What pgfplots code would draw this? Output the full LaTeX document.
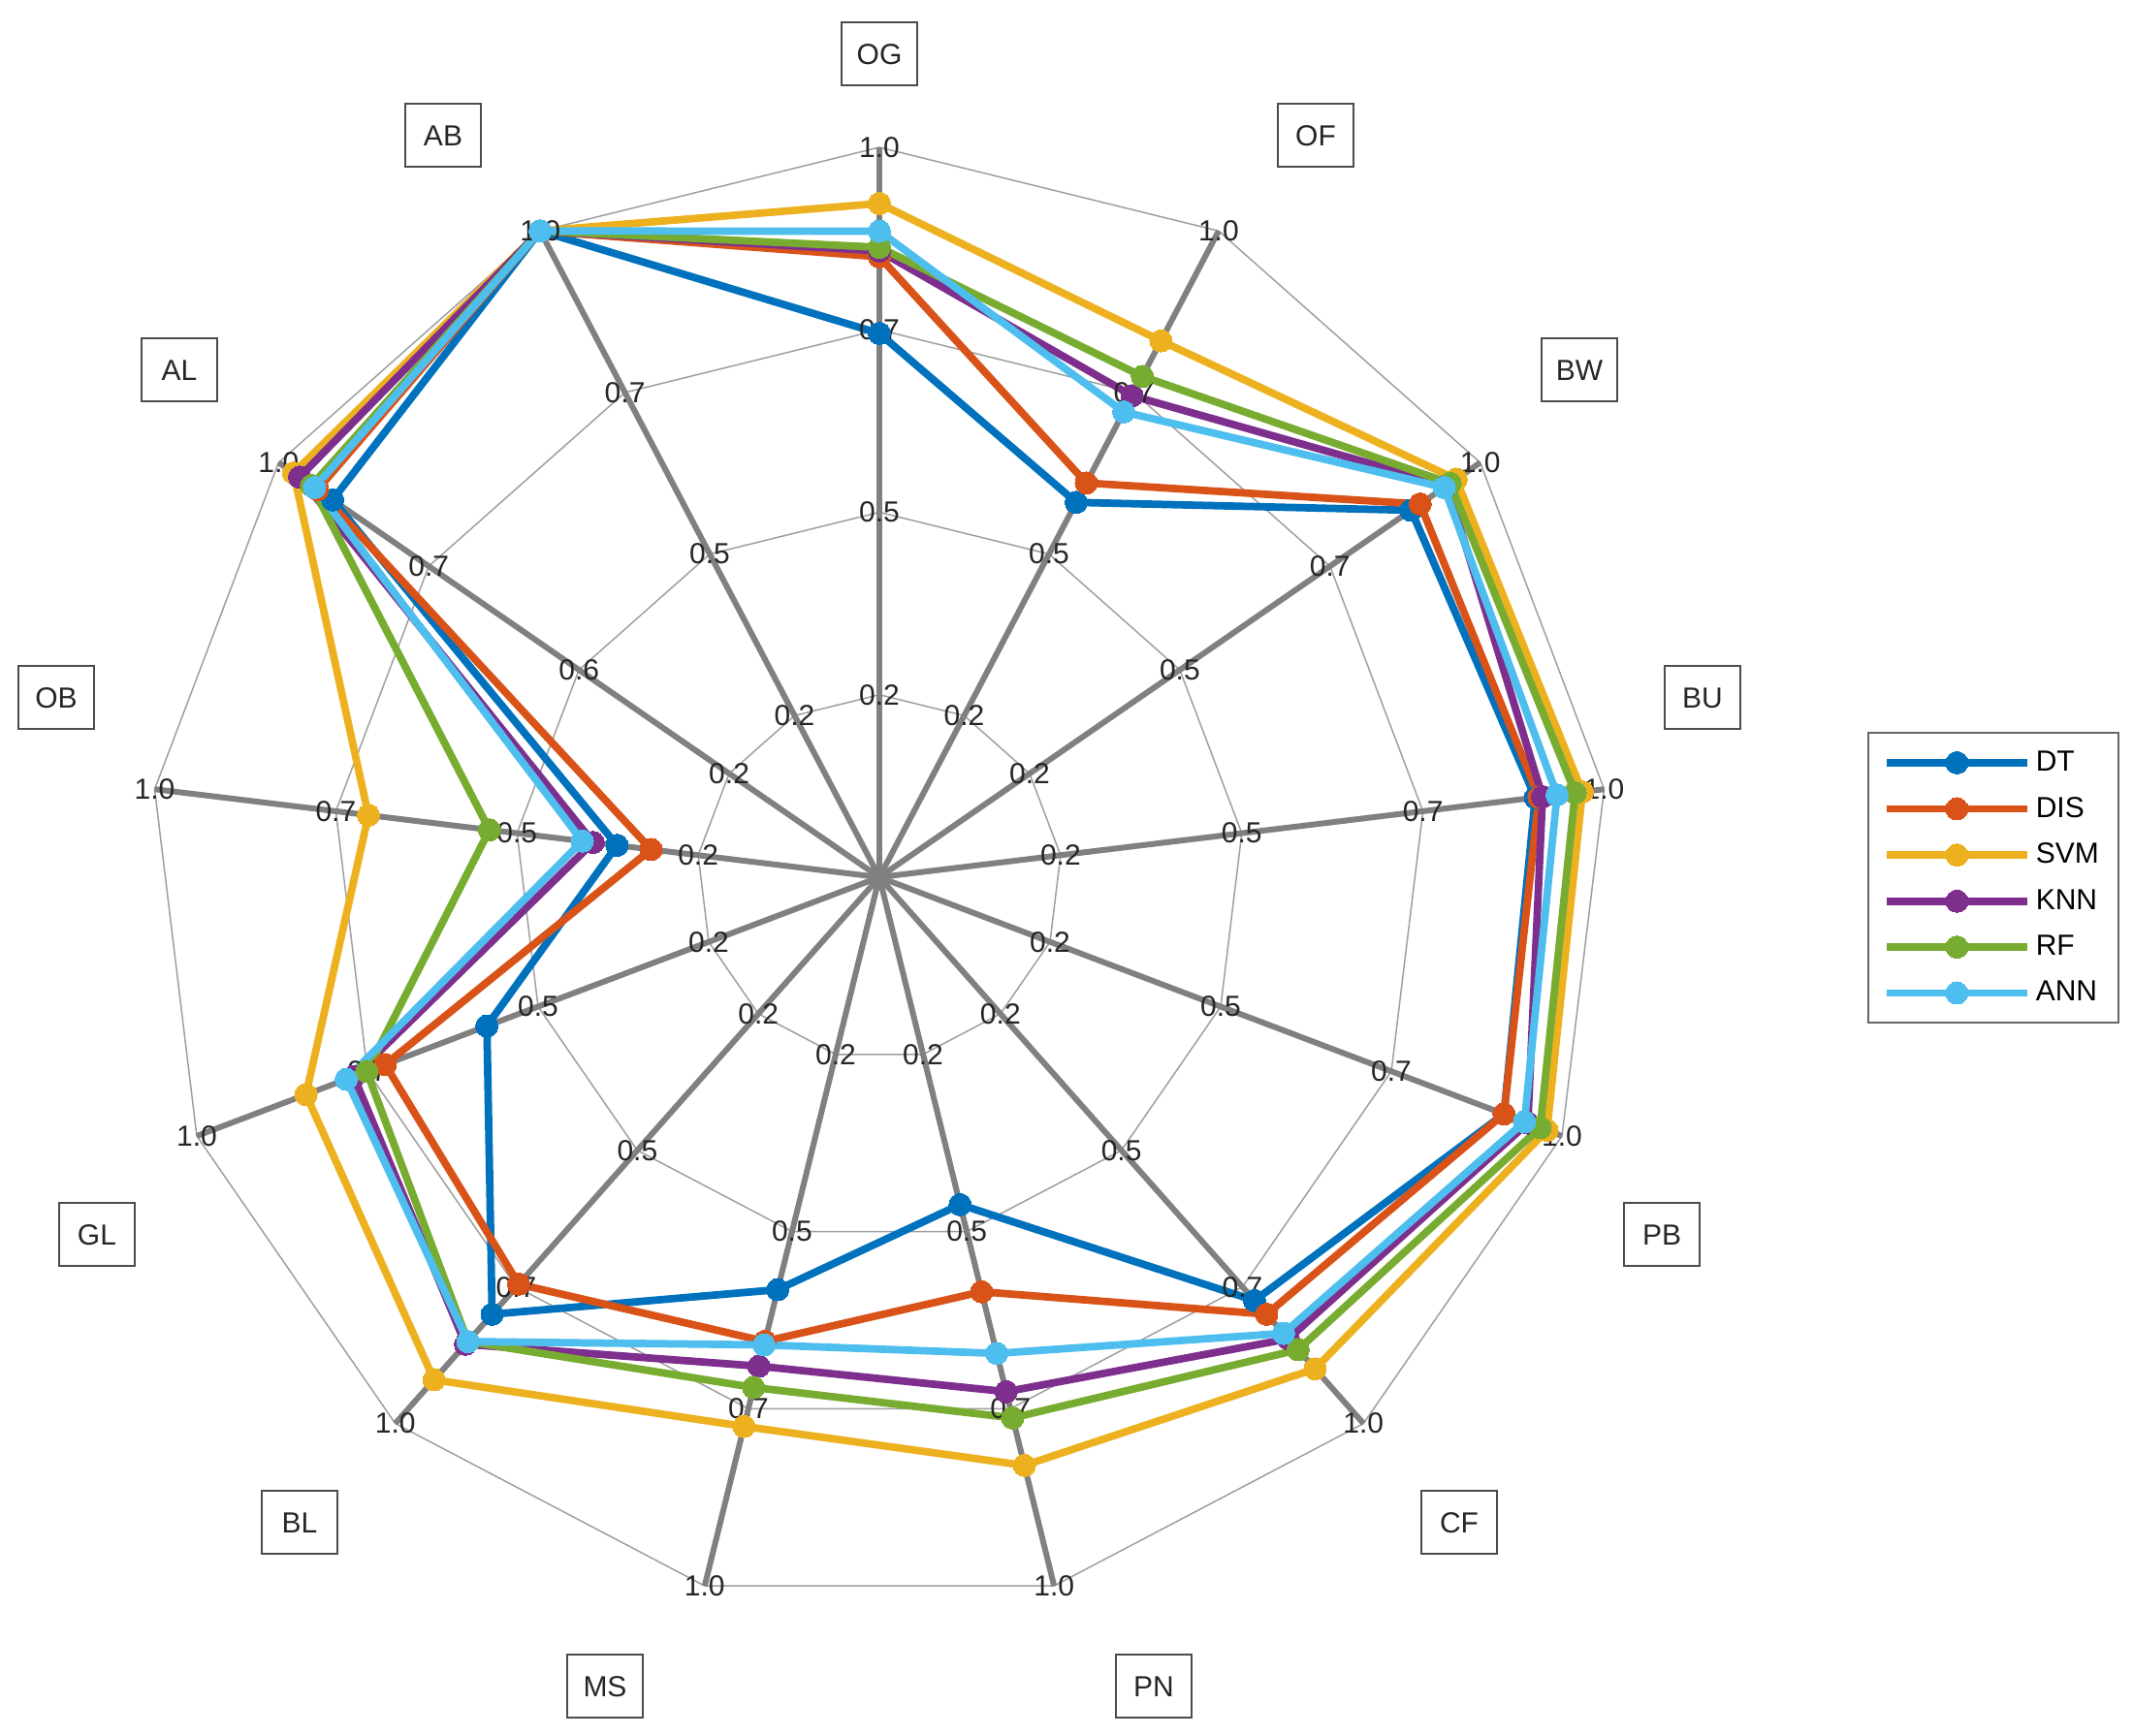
\documentclass[border=0pt]{standalone}
\usepackage{fontspec}
\setmainfont{Liberation Sans}
\usepackage{pgfplots}
\usepackage{pgfplotstable}
\pgfplotsset{compat=1.18}
\usetikzlibrary{calc}

\definecolor{cDT}{rgb}{0,0.447,0.741}
\definecolor{cDIS}{rgb}{0.850,0.325,0.098}
\definecolor{cSVM}{rgb}{0.929,0.694,0.125}
\definecolor{cKNN}{rgb}{0.494,0.184,0.556}
\definecolor{cRF}{rgb}{0.466,0.674,0.188}
\definecolor{cANN}{rgb}{0.301,0.745,0.933}

% radius as fraction of the outer ring (outer ring = 1.0)
% axes: OG OF BW BU PB CF PN MS BL GL OB AL AB (clockwise from top)
\pgfplotstableread{
ang      DT    DIS   SVM   KNN   RF    ANN
90       0.745 0.850 0.923 0.858 0.863 0.885
62.308   0.580 0.610 0.830 0.745 0.775 0.720
34.615   0.885 0.900 0.960 0.945 0.950 0.940
6.923    0.905 0.910 0.970 0.915 0.960 0.935
-20.769  0.915 0.915 0.978 0.950 0.968 0.945
-48.462  0.775 0.800 0.900 0.845 0.865 0.835
-76.154  0.462 0.585 0.830 0.726 0.763 0.672
-103.846 0.582 0.655 0.775 0.690 0.720 0.660
-131.538 0.800 0.745 0.920 0.855 0.850 0.850
-159.231 0.575 0.724 0.840 0.770 0.751 0.781
-186.923 0.362 0.315 0.705 0.395 0.538 0.410
-214.615 0.910 0.935 0.975 0.965 0.945 0.940
-242.308 1.000 1.000 1.000 1.000 1.000 1.000
-270     0.745 0.850 0.923 0.858 0.863 0.885
}\radar

\tikzset{
  ticklbl/.style={font=\fontsize{12}{14}\selectfont, text=black!85, inner sep=0pt},
  catlbl/.style={draw=black!70, line width=0.8pt, font=\fontsize{12}{14}\selectfont,
    minimum width=31pt, minimum height=26pt, inner sep=0pt, text=black!85},
}

\newcommand{\series}[2]{%
  \addplot[color=#2, line width=3.1pt, line join=round, mark=*, mark size=4.6pt,
    mark options={solid, fill=#2, draw=#2, line width=0pt}]
    table[x expr={907+753*\thisrow{#1}*cos(\thisrow{ang})},
          y expr={886+753*\thisrow{#1}*sin(\thisrow{ang})}] {\radar};
  \addlegendentry{#1}
}
\newcommand{\ring}[1]{%
  \addplot[gray!75, line width=0.6pt, forget plot]
    table[x expr={907+753*#1*cos(\thisrow{ang})},
          y expr={886+753*#1*sin(\thisrow{ang})}] {\radar};
}

\begin{document}
\begin{tikzpicture}
\useasboundingbox (0,0) rectangle (880pt,716.4pt);
\begin{axis}[
  at={(0,0)}, anchor=south west,
  x=0.4pt, y=0.4pt,
  xmin=0, xmax=2200, ymin=0, ymax=1791,
  hide axis, clip=false,
  legend style={at={(axis cs:1926,1036)}, anchor=north west,
    draw=black!60, line width=0.8pt, fill=white,
    font=\fontsize{12}{14}\selectfont, row sep=5.2pt, inner xsep=6pt, inner ysep=5.5pt,
    cells={anchor=west}},
  legend image code/.code={\draw[mark repeat=2, mark phase=2]
    plot coordinates {(0pt,0pt) (29pt,0pt) (58pt,0pt)};},
]
% rings
\ring{0.25}
\ring{0.5}
\ring{0.75}
\ring{1}
% spokes
\pgfplotsinvokeforeach{90,62.308,34.615,6.923,-20.769,-48.462,-76.154,-103.846,-131.538,-159.231,-186.923,-214.615,-242.308}{
  \draw[gray, line width=2.4pt] (axis cs:907,886) -- ($(axis cs:907,886)+(#1:301.2pt)$);
}
\fill[gray] (axis cs:907,886) circle (2.4pt);

\series{DT}{cDT}
\series{DIS}{cDIS}
\series{SVM}{cSVM}
\series{KNN}{cKNN}
\series{RF}{cRF}
\series{ANN}{cANN}

% tick labels
\pgfplotsinvokeforeach{90,62.308,34.615,6.923,-20.769,-48.462,-76.154,-103.846,-131.538,-159.231,-186.923,-242.308}{
  \node[ticklbl] at ($(axis cs:907,886)+(#1:75.3pt)$) {0.2};
  \node[ticklbl] at ($(axis cs:907,886)+(#1:150.6pt)$) {0.5};
  \node[ticklbl] at ($(axis cs:907,886)+(#1:225.9pt)$) {0.7};
  \node[ticklbl] at ($(axis cs:907,886)+(#1:301.2pt)$) {1.0};
}
\node[ticklbl] at ($(axis cs:907,886)+(-214.615:75.3pt)$) {0.2};
\node[ticklbl] at ($(axis cs:907,886)+(-214.615:150.6pt)$) {0.6};
\node[ticklbl] at ($(axis cs:907,886)+(-214.615:225.9pt)$) {0.7};
\node[ticklbl] at ($(axis cs:907,886)+(-214.615:301.2pt)$) {1.0};

% category labels
\node[catlbl] at (axis cs:907,1735) {OG};
\node[catlbl] at (axis cs:1357,1651) {OF};
\node[catlbl] at (axis cs:1629,1409) {BW};
\node[catlbl] at (axis cs:1756,1071) {BU};
\node[catlbl] at (axis cs:1714,517) {PB};
\node[catlbl] at (axis cs:1505,220) {CF};
\node[catlbl] at (axis cs:1190,51) {PN};
\node[catlbl] at (axis cs:624,51) {MS};
\node[catlbl] at (axis cs:309,220) {BL};
\node[catlbl] at (axis cs:100,517) {GL};
\node[catlbl] at (axis cs:58,1071) {OB};
\node[catlbl] at (axis cs:185,1409) {AL};
\node[catlbl] at (axis cs:457,1651) {AB};
\end{axis}
\end{tikzpicture}
\end{document}
